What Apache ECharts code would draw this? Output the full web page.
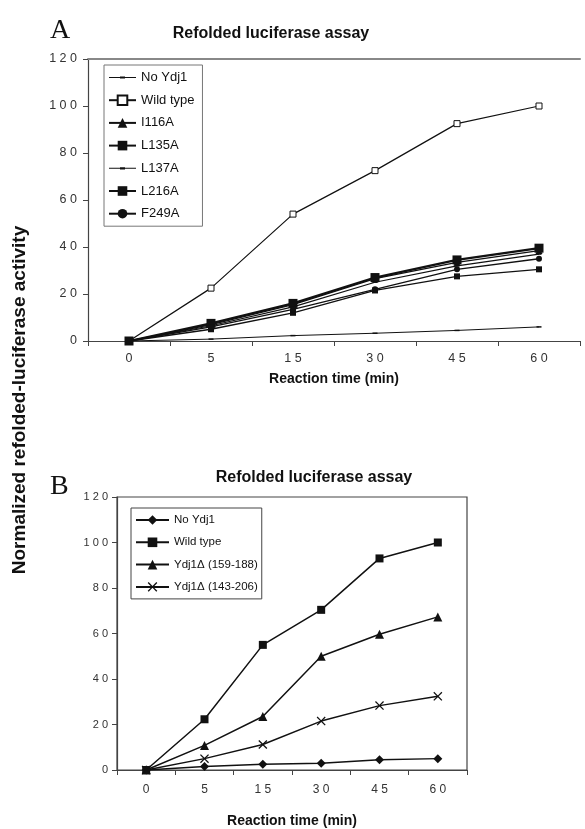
<!DOCTYPE html>
<html>
<head>
<meta charset="utf-8">
<script src="https://cdn.jsdelivr.net/npm/echarts@6/dist/echarts.min.js"></script>
<style>
  html, body { margin: 0; padding: 0; background: #fff; }
  #main { width: 585px; height: 829px; }
</style>
</head>
<body>
<div id="main"></div>
<script>
// time points (min)
var times = ['0', '5', '15', '30', '45', '60'];
var yTicks = [0, 20, 40, 60, 80, 100, 120];

// panel A
var aNoYdj1 = [0, 0.8, 2.3, 3.3, 4.5, 6];
var aWildType = [0, 22.5, 54, 72.5, 92.5, 100];
var aI116A = [0, 7, 15.5, 26.5, 33.5, 38.5];
var aL135A = [0, 7.5, 16, 27, 34.5, 39.5];
var aL137A = [0, 6.5, 14.5, 25, 32, 37];
var aL216A = [0, 5, 12, 21.5, 27.5, 30.5];
var aF249A = [0, 6, 13.5, 22, 30.5, 35];

// panel B
var bNoYdj1 = [0, 1.5, 2.5, 3, 4.5, 5];
var bWildType = [0, 22.3, 55, 70.4, 93, 100];
var bDel159 = [0, 10.8, 23.5, 50, 59.7, 67.3];
var bDel143 = [0, 5, 11.2, 21.5, 28.3, 32.4];

var font = 'Liberation Sans';
var cross = 'path://M0,1L1,0L5,4L9,0L10,1L6,5L10,9L9,10L5,6L1,10L0,9L4,5Z';
var dash = 'path://M0,0H10V3H0Z';
// legend icon for the marker-less lines: plain line with a short thick bit in the middle
var dashIcon = 'path://M0,0.6H11V0H16V0.6H27V1.6H16V2.2H11V1.6H0Z';

// spread the digits out a bit like the original figure
function spaced(v) { return String(v).split('').join(' '); }

function ln(name, data, axis, symbol, size, width, fill) {
  return {
    name: name, type: 'line', data: data,
    xAxisIndex: axis, yAxisIndex: axis,
    symbol: symbol, symbolSize: size, symbolKeepAspect: true,
    lineStyle: { color: '#111', width: width || 1.2 },
    itemStyle: { color: fill || '#111', borderColor: '#111', borderWidth: fill ? 1 : 0 },
    emphasis: { disabled: true },
    z: 3
  };
}

function xAx(grid) {
  return {
    type: 'category', gridIndex: grid, data: times, boundaryGap: true,
    name: 'Reaction time (min)', nameLocation: 'middle', nameGap: grid ? 44 : 31,
    nameTextStyle: { fontFamily: font, fontWeight: 'bold', fontSize: 14, color: '#111' },
    axisLine: { lineStyle: { color: '#444', width: 1.2 } },
    axisTick: { show: true, alignWithLabel: false, length: 5, lineStyle: { color: '#444' } },
    axisLabel: { fontFamily: font, fontSize: grid ? 12 : 12.5, color: '#333', margin: grid ? 14 : 11,
      formatter: spaced },
    splitLine: { show: false }
  };
}

function yAx(grid) {
  return {
    type: 'value', gridIndex: grid, min: 0, max: 120, interval: 20,
    axisLine: { show: true, lineStyle: { color: '#444', width: 1.2 } },
    axisTick: { show: true, length: 5, lineStyle: { color: '#444' } },
    axisLabel: { fontFamily: font, fontSize: grid ? 11 : 12.5, color: '#333', margin: grid ? 9 : 11,
      formatter: function (v) { return yTicks.indexOf(v) >= 0 ? spaced(v) : ''; } },
    splitLine: { show: false }
  };
}

var chart = echarts.init(document.getElementById('main'));
chart.setOption({
  animation: false,
  backgroundColor: '#fff',
  title: [
    { text: 'Refolded luciferase assay', left: 266, top: 21, textAlign: 'center',
      textStyle: { fontFamily: font, fontSize: 16, fontWeight: 'bold', color: '#111' } },
    { text: 'Refolded luciferase assay', left: 309, top: 465, textAlign: 'center',
      textStyle: { fontFamily: font, fontSize: 16, fontWeight: 'bold', color: '#111' } },
    { text: 'A', left: 45, top: 12,
      textStyle: { fontFamily: 'Liberation Serif', fontSize: 28, fontWeight: 'normal', color: '#111' } },
    { text: 'B', left: 45, top: 468,
      textStyle: { fontFamily: 'Liberation Serif', fontSize: 28, fontWeight: 'normal', color: '#111' } }
  ],
  graphic: [{
    type: 'text', x: 20, y: 400, rotation: Math.PI / 2,
    style: { text: 'Normalized refolded-luciferase activity', fill: '#111',
      font: 'bold 19px "Liberation Sans"', textAlign: 'center', textVerticalAlign: 'middle' }
  }],
  grid: [
    { left: 88, right: 5, top: 59, bottom: 488 },
    { left: 117, right: 118, top: 497, bottom: 57, show: true, borderColor: '#444', borderWidth: 1.2 }
  ],
  xAxis: [xAx(0), xAx(1),
    { type: 'category', gridIndex: 0, position: 'top', data: times,
      axisLine: { show: true, lineStyle: { color: '#888', width: 2 } },
      axisTick: { show: false }, axisLabel: { show: false } }],
  yAxis: [yAx(0), yAx(1)],
  legend: [
    { orient: 'vertical', left: 104, top: 65, padding: [6, 8, 6, 4], itemGap: 9.7,
      itemWidth: 27, itemHeight: 12, borderColor: '#777', borderWidth: 1, symbolKeepAspect: true,
      textStyle: { fontFamily: font, fontSize: 13, lineHeight: 12, color: '#111' },
      data: [{ name: 'No Ydj1', icon: dashIcon }, 'Wild type', 'I116A', 'L135A',
        { name: 'L137A', icon: dashIcon }, 'L216A', 'F249A'] },
    { orient: 'vertical', left: 131, top: 508, padding: [6, 4, 6, 4], itemGap: 10.3,
      itemWidth: 33, itemHeight: 12, borderColor: '#444', borderWidth: 1,
      textStyle: { fontFamily: font, fontSize: 11.5, lineHeight: 12, color: '#111' },
      data: ['No Ydj1 ', 'Wild type ', 'Ydj1Δ (159-188)', 'Ydj1Δ (143-206)'] }
  ],
  series: [
    ln('No Ydj1', aNoYdj1, 0, dash, 5, 1),
    ln('Wild type', aWildType, 0, 'rect', 6, 1.2, '#fff'),
    ln('I116A', aI116A, 0, 'triangle', 7, 1.3),
    ln('L135A', aL135A, 0, 'rect', 9, 2.2),
    ln('L137A', aL137A, 0, dash, 5, 1.2),
    ln('L216A', aL216A, 0, 'rect', 6, 1.3),
    ln('F249A', aF249A, 0, 'circle', 6, 1.3),
    ln('No Ydj1 ', bNoYdj1, 1, 'diamond', 9, 1.5),
    ln('Wild type ', bWildType, 1, 'rect', 8, 1.5),
    ln('Ydj1Δ (159-188)', bDel159, 1, 'triangle', 9, 1.5),
    ln('Ydj1Δ (143-206)', bDel143, 1, cross, 9, 1.5)
  ]
});
</script>
</body>
</html>
